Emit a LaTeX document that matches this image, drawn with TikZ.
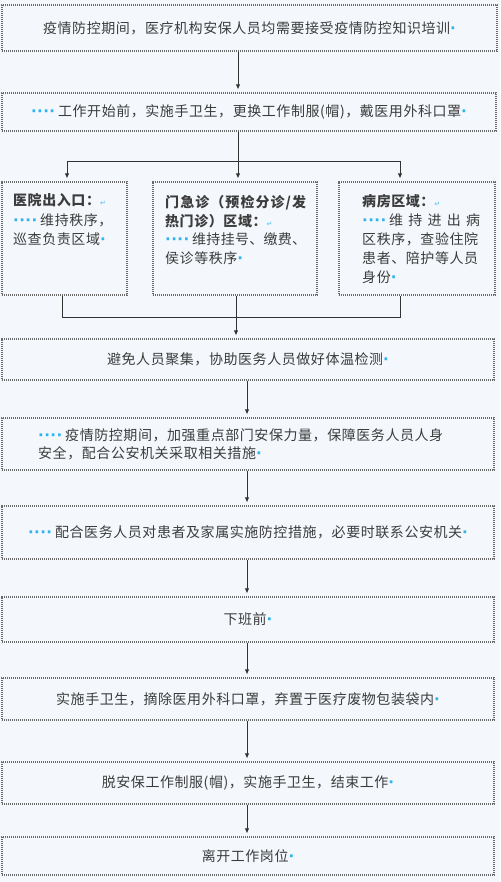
\documentclass[tikz,border=0pt]{standalone}
\usepackage{fontspec}
\setmainfont{Noto Sans CJK SC}[LetterSpace=4]
\newfontfamily\dvfont{DejaVu Sans}
\usetikzlibrary{arrows.meta,calc}
\definecolor{bg}{HTML}{F4F8FC}
\definecolor{edge}{HTML}{6A6A6A}
\definecolor{txt}{HTML}{3C3C3C}
\definecolor{mk}{HTML}{2EB3F0}
\newcommand\lead{{\dvfont\bfseries\fontsize{15}{15}\selectfont\textcolor{mk}{\makebox[24pt][s]{·\hfil·\hfil·\hfil·}}}\hspace{3pt}}
\newcommand\pmark{{\dvfont\bfseries\fontsize{15}{15}\selectfont\textcolor{mk}{·}}}
\newcommand\brk{\textcolor{mk!70}{{\dvfont\fontsize{7}{7}\selectfont ↵}}}
\tikzset{
  box/.style={draw=edge, line width=1.1pt, dash pattern=on 1.2pt off 0.8pt, fill=bg, inner sep=0pt, text=txt, align=center},
  lbl/.style={inner sep=0pt, text=txt, anchor=base west},
  ln/.style={draw=black!80, line width=0.9pt},
  arr/.style={ln, -{Latex[length=5pt,width=4.5pt]}}
}
\begin{document}
\begin{tikzpicture}[x=1pt,y=-1pt,font=\fontsize{14}{19}\selectfont]
\fill[bg] (0,0) rectangle (500,882);
\useasboundingbox (0,0) rectangle (500,882);

% main boxes
\node[box, minimum width=495pt, minimum height=46pt] (b1) at (249.5,28) {疫情防控期间，医疗机构安保人员均需要接受疫情防控知识培训\pmark};
\node[box, minimum width=494pt, minimum height=38pt] (b2) at (249,112) {\lead 工作开始前，实施手卫生，更换工作制服(帽)，戴医用外科口罩\pmark};

% three area boxes
\node[box, minimum width=125pt, minimum height=113pt] (bA) at (64.5,238.5) {};
\node[box, minimum width=164pt, minimum height=113pt] (bB) at (235,238.5) {};
\node[box, minimum width=156pt, minimum height=113pt] (bC) at (417,238.5) {};

\node[lbl] (tA1) at (13,206) {\bfseries 医院出入口：\brk};
\node[lbl] (tA2) at (13,225.5) {\lead 维持秩序，};
\node[lbl] (tA3) at (13,245) {巡查负责区域\pmark};

\node[lbl] (tB1) at (165,207.5) {\makebox[141pt][s]{\bfseries 门\hfil 急\hfil 诊\hfil （\hfil 预\hfil 检\hfil 分\hfil 诊\hfil /\hfil 发}};
\node[lbl] (tB2) at (165,226.5) {\bfseries 热门诊）区域：\brk};
\node[lbl] (tB3) at (165,245) {\makebox[141pt][s]{\lead 维\hfil 持\hfil 挂\hfil 号\hfil 、\hfil 缴\hfil 费\hfil 、}};
\node[lbl] (tB4) at (165,263.5) {侯诊等秩序\pmark};

\node[lbl] (tC1) at (362,206.5) {\bfseries 病房区域：\brk};
\node[lbl] (tC2) at (362,226) {\makebox[118pt][s]{\lead 维\hfil 持\hfil 进\hfil 出\hfil 病}};
\node[lbl] (tC3) at (362,245) {区秩序，查验住院};
\node[lbl] (tC4) at (362,263.5) {患者、陪护等人员};
\node[lbl] (tC5) at (362,282.5) {身份\pmark};

\node[box, minimum width=492pt, minimum height=41pt] (b4) at (248,359.5) {避免人员聚集，协助医务人员做好体温检测\pmark};
\node[box, minimum width=492pt, minimum height=52pt] (b5) at (248,444) {};
\node[lbl] (t51) at (38,440.5) {\lead 疫情防控期间，加强重点部门安保力量，保障医务人员人身};
\node[lbl] (t52) at (38,458.5) {安全，配合公安机关采取相关措施\pmark};
\node[box, minimum width=492pt, minimum height=53pt] (b6) at (248,532.5) {\lead 配合医务人员对患者及家属实施防控措施，必要时联系公安机关\pmark};
\node[box, minimum width=492pt, minimum height=45pt] (b7) at (248,619.5) {下班前\pmark};
\node[box, minimum width=492pt, minimum height=42pt] (b8) at (248,699) {实施手卫生，摘除医用外科口罩，弃置于医疗废物包装袋内\pmark};
\node[box, minimum width=492pt, minimum height=42pt] (b9) at (248,783) {脱安保工作制服(帽)，实施手卫生，结束工作\pmark};
\node[box, minimum width=492pt, minimum height=38pt] (b10) at (248,856) {离开工作岗位\pmark};

% connector helper coordinates
\coordinate (xa) at (238,0);
\coordinate (xb) at (247,0);
\coordinate (sp) at (238,161);
\coordinate (spl) at (67,161);
\coordinate (spr) at (400,161);
\coordinate (jl) at (62,317);
\coordinate (jr) at (400,317);
\coordinate (jc) at (236,317);

\draw[arr] (b1.south -| xa) -- ([yshift=3pt]b2.north -| xa);
\draw[ln] (b2.south -| xa) -- (sp);
\draw[ln] (spl) -- (spr);
\draw[arr] (spl) -- ([yshift=3pt]bA.north -| spl);
\draw[arr] (sp) -- ([yshift=3pt]bB.north -| sp);
\draw[arr] (spr) -- ([yshift=3pt]bC.north -| spr);
\draw[ln] (bA.south -| jl) -- (jl) -- (jr) -- (bC.south -| jr);
\draw[arr] (bB.south -| jc) -- ([yshift=3pt]b4.north -| jc);
\draw[arr] (b4.south -| xb) -- ([yshift=3pt]b5.north -| xb);
\draw[arr] (b5.south -| xb) -- ([yshift=3pt]b6.north -| xb);
\draw[arr] (b6.south -| xb) -- ([yshift=3pt]b7.north -| xb);
\draw[arr] (b7.south -| xb) -- ([yshift=3pt]b8.north -| xb);
\draw[arr] (b8.south -| xb) -- ([yshift=3pt]b9.north -| xb);
\draw[arr] (b9.south -| xb) -- ([yshift=3pt]b10.north -| xb);
\end{tikzpicture}
\end{document}
